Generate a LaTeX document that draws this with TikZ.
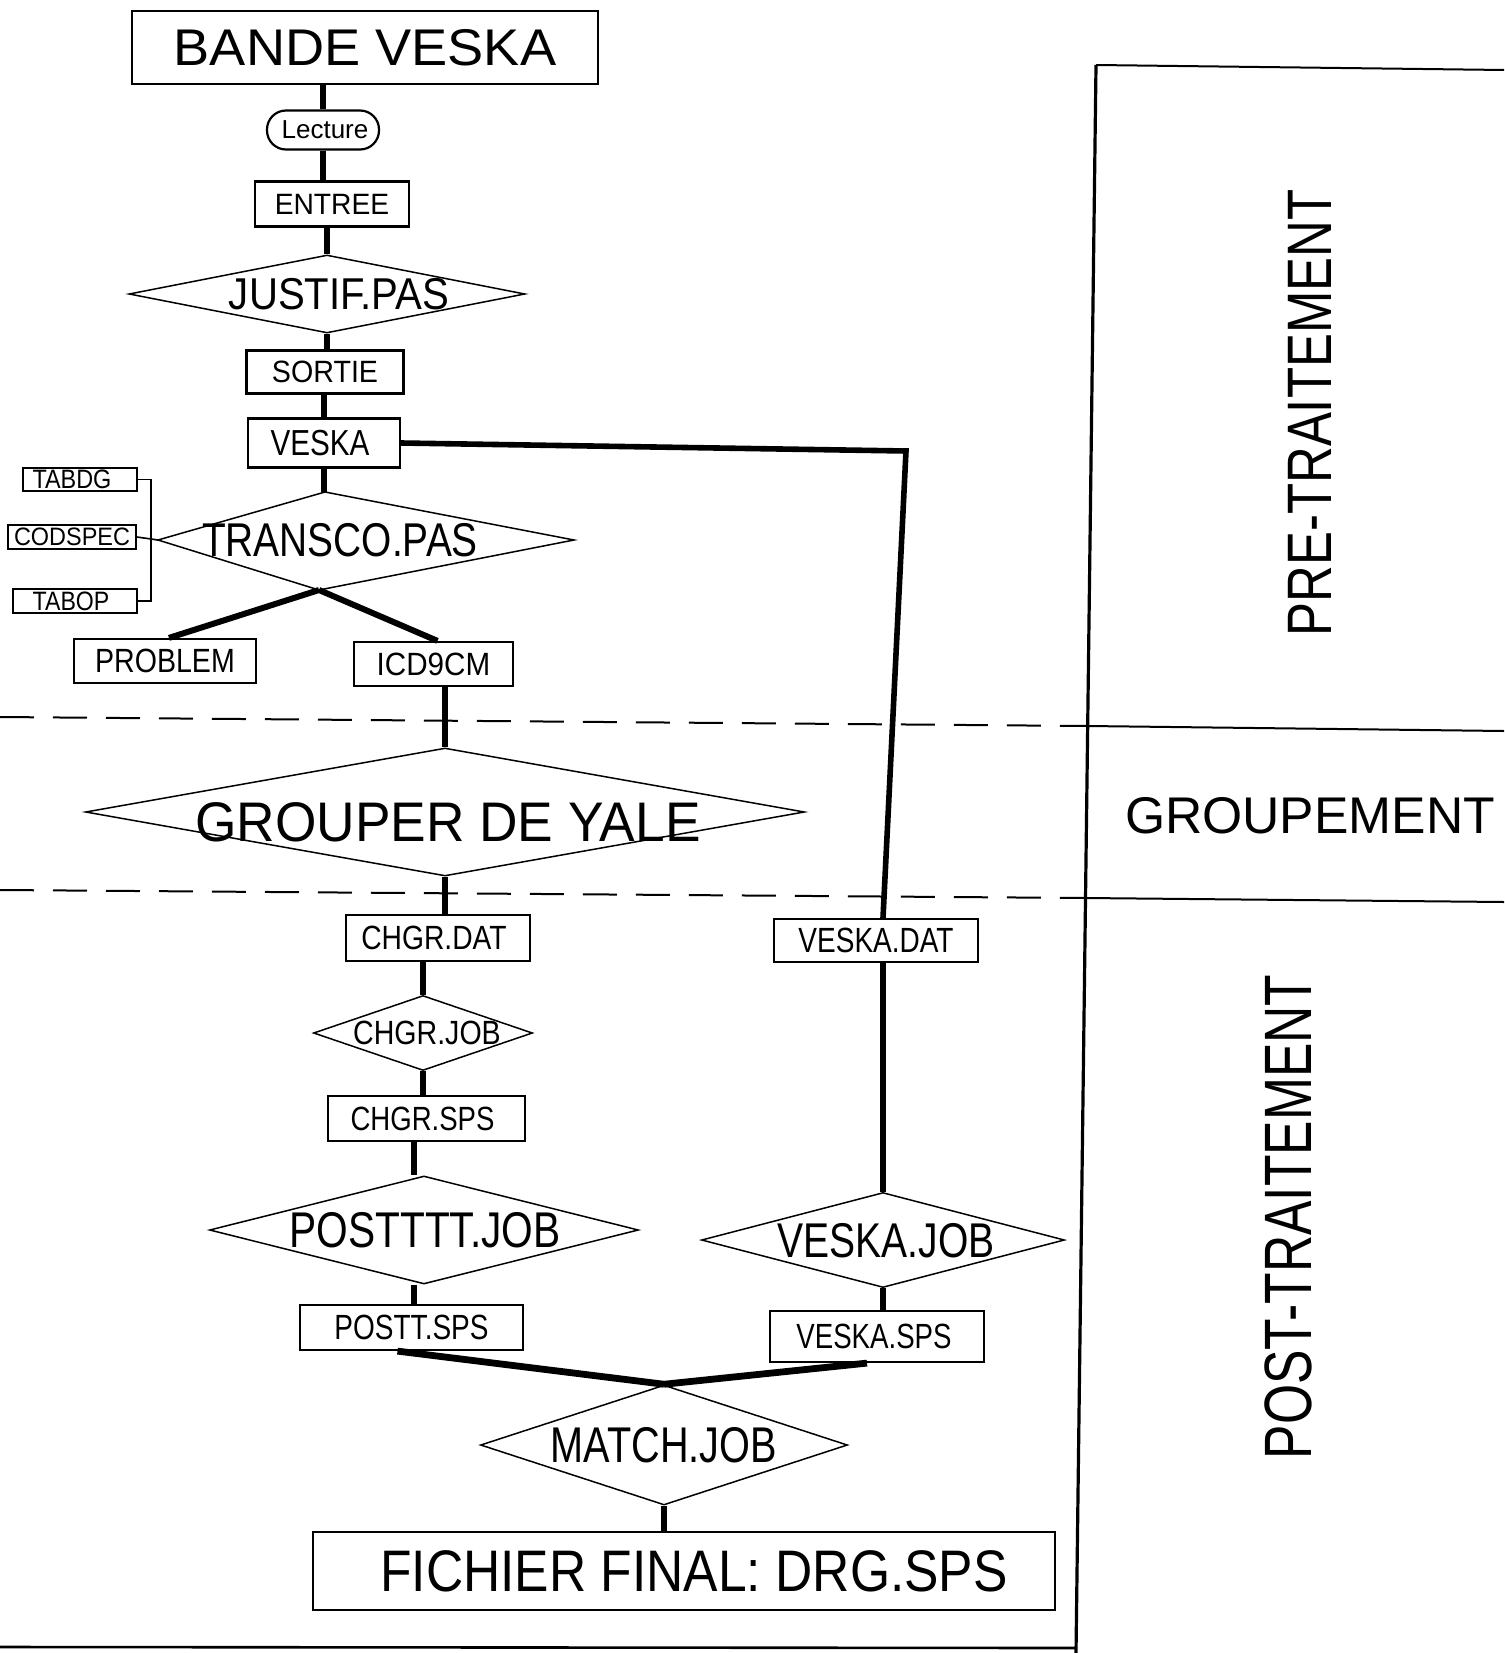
\documentclass[tikz,border=0pt]{standalone}
\usepackage{fontspec}
\setmainfont{Liberation Sans}
\usepackage{graphicx}
\usetikzlibrary{shapes.geometric,calc}
% #1 size, #2 xscale, #3 horizontal offset, #4 text, #5 vertical offset
\newcommand\T[5]{\makebox[0pt]{\hspace*{#3}\raisebox{#5}[0pt][0pt]{\fontsize{#1}{#1}\selectfont\raisebox{-0.5\height}{\scalebox{#2}[1]{#4}}}}}
\begin{document}
\begin{tikzpicture}[x=0.5pt,y=-0.5pt,
  box/.style={draw,line width=1.1pt,rectangle,inner sep=0pt},
  dia/.style={draw,line width=0.75pt,diamond,inner sep=0pt},
  conn/.style={line width=3pt},
  link/.style={line width=2.8pt},
  brk/.style={line width=0.8pt},
  panel/.style={line width=1pt},
  sep/.style={line width=1pt,dash pattern=on 17pt off 9.5pt}]
\useasboundingbox (0,0) rectangle (1504,1653);
\fill[white] (0,0) rectangle (1504,1653);

% ---- nodes ----
\node[box,line width=1.3pt,minimum width=233pt,minimum height=36.5pt] (bande) at (365,47.5) {\T{25.8}{1.05}{0pt}{BANDE VESKA}{0pt}};
\node[box,rounded corners=9.5pt,minimum width=56pt,minimum height=19.5pt] (lecture) at (323,130) {\T{13}{1.0}{2pt}{Lecture}{0pt}};
\node[box,minimum width=77pt,minimum height=22.5pt] (entree) at (332,204) {\T{14.7}{0.96}{0pt}{ENTREE}{0pt}};
\node[dia,minimum width=198pt,minimum height=39pt] (justif) at (327,294) {\T{22.3}{0.9}{12pt}{JUSTIF.PAS}{0pt}};
\node[box,minimum width=78.5pt,minimum height=21.5pt] (sortie) at (325,372) {\T{15.4}{0.93}{0pt}{SORTIE}{0pt}};
\node[box,minimum width=76pt,minimum height=24.5pt] (veska) at (324,443) {\T{18.1}{0.82}{-4pt}{VESKA}{0pt}};

% TRANSCO.PAS (irregular diamond)
\coordinate (tl) at (158,540);
\coordinate (tt) at (325,492);
\coordinate (tr) at (574,540);
\coordinate (tb) at (319,590);
\draw[line width=0.75pt] (tl) -- (tt) -- (tr) -- (tb) -- cycle;
\node[inner sep=0pt] (transco) at (340,540) {\T{23.7}{0.82}{0pt}{TRANSCO.PAS}{0pt}};

\node[box,minimum width=91pt,minimum height=22pt] (problem) at (165,661) {\T{16.8}{0.85}{0pt}{PROBLEM}{0pt}};
\node[box,minimum width=79.5pt,minimum height=22pt] (icd) at (433.5,664) {\T{16.1}{0.92}{0pt}{ICD9CM}{0pt}};
\node[box,line width=0.9pt,minimum width=57pt,minimum height=11.5pt] (tabdg) at (80,479.5) {\T{13.3}{0.88}{-8pt}{TABDG}{0pt}};
\node[box,line width=0.9pt,minimum width=64pt,minimum height=12pt] (codspec) at (72,537) {\T{12.6}{0.93}{0pt}{CODSPEC}{0pt}};
\node[box,line width=0.9pt,minimum width=62pt,minimum height=12pt] (tabop) at (75,601) {\T{13.3}{0.87}{-4pt}{TABOP}{0pt}};

\node[dia,minimum width=359.5pt,minimum height=64pt] (grouper) at (445,812) {\T{27.9}{0.955}{3pt}{GROUPER DE YALE}{-5pt}};
\node[box,minimum width=92pt,minimum height=23pt] (chgrdat) at (438,938) {\T{16.8}{0.84}{-4pt}{CHGR.DAT}{0pt}};
\node[dia,minimum width=109.5pt,minimum height=37.5pt] (chgrjob) at (423,1033) {\T{16.8}{0.85}{4pt}{CHGR.JOB}{0pt}};
\node[box,minimum width=98.5pt,minimum height=22.5pt] (chgrsps) at (426.5,1118.5) {\T{16.8}{0.82}{-4pt}{CHGR.SPS}{0pt}};
\node[dia,minimum width=214.5pt,minimum height=54pt] (postjob) at (424,1230) {\T{25.1}{0.81}{1pt}{POSTTTT.JOB}{0pt}};
\node[box,minimum width=111.5pt,minimum height=22.5pt] (posttsps) at (411.5,1327.5) {\T{17.5}{0.8}{0pt}{POSTT.SPS}{0pt}};
\node[box,minimum width=102pt,minimum height=21.5pt] (veskadat) at (876,940.5) {\T{17.5}{0.8}{0pt}{VESKA.DAT}{0pt}};
\node[dia,minimum width=181.5pt,minimum height=47.5pt] (veskajob) at (883,1240) {\T{24.4}{0.8}{3pt}{VESKA.JOB}{0pt}};
\node[box,minimum width=107pt,minimum height=25.5pt] (veskasps) at (877,1336.5) {\T{17.5}{0.79}{-3pt}{VESKA.SPS}{0pt}};
\node[dia,minimum width=183.5pt,minimum height=60pt] (match) at (664,1445) {\T{25.1}{0.79}{0pt}{MATCH.JOB}{0pt}};
\node[box,line width=1.3pt,minimum width=371pt,minimum height=39pt] (final) at (684,1571) {\T{29.3}{0.88}{10pt}{FICHIER FINAL: DRG.SPS}{0pt}};

% ---- connectors ----
\draw[conn] (bande.south -| lecture.north) -- (lecture.north);
\draw[conn] (lecture.south) -- (lecture.south |- entree.north);
\draw[conn] (entree.south -| justif.north) -- (justif.north);
\draw[conn] (justif.south) -- (justif.south |- sortie.north);
\draw[conn] (sortie.south -| veska.north) -- (veska.north);
\draw[conn] (veska.south) -- (veska.south |- tt);
\draw[conn] (tb) -- ([xshift=2pt]problem.north);
\draw[conn] (tb) -- ([xshift=2pt]icd.north);
\draw[conn] (icd.south -| grouper.north) -- (grouper.north);
\draw[conn] (grouper.south) -- (grouper.south |- chgrdat.north);
\draw[conn] (chgrdat.south -| chgrjob.north) -- (chgrjob.north);
\draw[conn] (chgrjob.south) -- (chgrjob.south |- chgrsps.north);
\draw[conn] ([xshift=-5pt]chgrsps.south -| postjob.north) -- ([xshift=-5pt]postjob.north);
\draw[conn] ([xshift=-5pt]postjob.south) -- ([xshift=-5pt]postjob.south |- posttsps.north);
\draw[line width=3.4pt] ([xshift=-7pt]posttsps.south) -- (match.north);
\draw[line width=3.4pt] ([xshift=-5pt]veskasps.south) -- (match.north);
\draw[conn] (match.south) -- (match.south |- final.north);
\coordinate (corner) at (906,451);
\draw[link] (veska.east) -- (corner) -- ([xshift=3.5pt]veskadat.north);
\draw[link] (veskadat.south -| veskajob.north) -- (veskajob.north);
\draw[conn] (veskajob.south) -- (veskajob.south |- veskasps.north);

% bracket of tables
\coordinate (bx) at (151,0);
\draw[brk] (tabdg.east) -- (tabdg.east -| bx) -- (tabop.east -| bx) -- (tabop.east);
\draw[brk] (codspec.east) -- (tl);

% ---- phase panel ----
\coordinate (vt) at (1096,65);
\coordinate (vb) at (1076,1653);
\coordinate (s1) at (1088,726);
\coordinate (s2) at (1085,898);
\draw[line width=1.6pt] (vt) -- (vb);
\draw[panel] (vt) -- (1504,70);
\draw[sep] (0,717) -- (s1);
\draw[panel] (s1) -- (1504,731);
\draw[sep] (0,890) -- (s2);
\draw[panel] (s2) -- (1504,902);
\draw[line width=1.3pt] (0,1647) -- (vb |- 0,1648);

\node[rotate=90,inner sep=0pt] (pre) at (1310,413) {\fontsize{31.4}{31.4}\selectfont\scalebox{0.81}[1]{PRE-TRAITEMENT}};
\node[inner sep=0pt] (grp) at (1310,816) {\fontsize{25.8}{25.8}\selectfont GROUPEMENT};
\node[rotate=90,inner sep=0pt] (post) at (1288,1217) {\fontsize{33.5}{33.5}\selectfont\scalebox{0.77}[1]{POST-TRAITEMENT}};
\end{tikzpicture}
\end{document}
